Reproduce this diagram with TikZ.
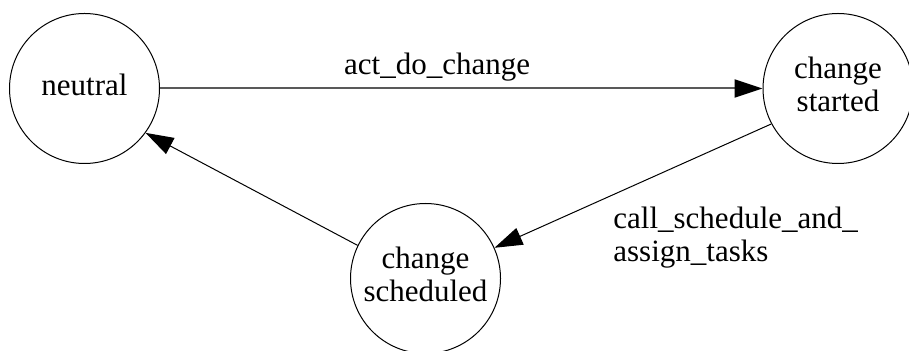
\documentclass[tikz,border=0pt]{standalone}
\usepackage{fontspec}
\setmainfont{Liberation Serif}
\usetikzlibrary{arrows.meta, positioning}

\begin{document}
\begin{tikzpicture}[>={Triangle[length=14pt, width=9pt]}, x=0.5pt, y=-0.5pt,
    state/.style={draw, circle, minimum size=75pt, inner sep=0pt, align=center, line width=0.5pt},
    font=\fontsize{15.5pt}{16.5pt}\selectfont]

    \useasboundingbox (0,0) rectangle (909,351);

    % the three states
    \node[state] (neutral) at (84.5,88.5) {neutral\strut};
    \node[state] (started) at (838,88.5) {change\strut\\started\strut};
    \node[state] (sched) at (425.5,278.5) {change\strut\\scheduled\strut};

    % transitions
    \draw[-{>[color=black]}, line width=1pt, black!65] (neutral) -- (started) node[pos=0.46, above, text=black] (lbldo) {act\_do\_change};
    \draw[->, line width=0.5pt] (started.208) -- (sched.24);
    \draw[->, line width=0.5pt] (sched.154) -- (neutral.-36);

    % label of the lower right transition
    \node[anchor=north west, inner sep=0pt, align=left] (lblcall) at (613,207) {call\_schedule\_and\_\\assign\_tasks};
\end{tikzpicture}
\end{document}
